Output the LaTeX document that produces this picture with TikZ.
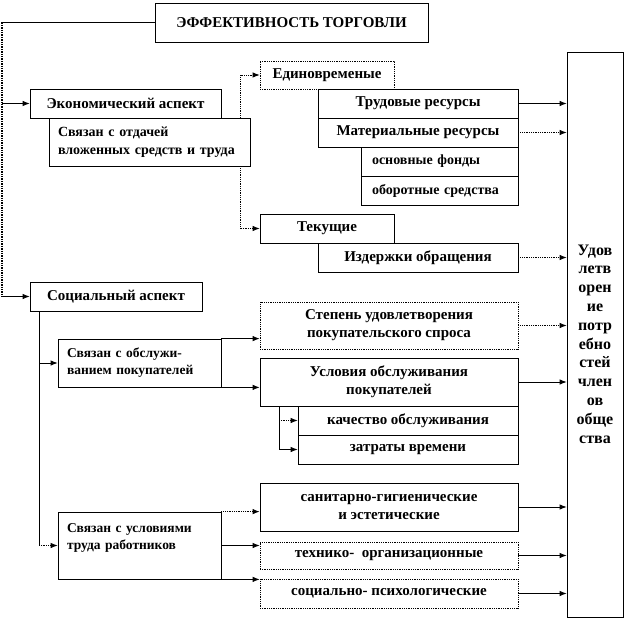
\documentclass[tikz,border=0pt]{standalone}
\usepackage{fontspec}
\setmainfont{Liberation Serif}
\usetikzlibrary{arrows.meta,positioning,calc}

\begin{document}
\begin{tikzpicture}[x=1pt, y=-1pt,
    box/.style={draw, line width=0.8pt, fill=white, inner sep=0pt, align=center,
      font=\bfseries\fontsize{15}{18}\selectfont},
    dotbox/.style={box, densely dotted},
    leftbox/.style={box, align=left, inner xsep=9pt, font=\bfseries\fontsize{13.5}{17}\selectfont},
    arr/.style={-{Latex[length=7pt,width=5.5pt]}, line width=0.8pt},
    dotarr/.style={arr, densely dotted},
    dotline/.style={line width=1.4pt, densely dotted}]
  \useasboundingbox (0,0) rectangle (628,620);

  \node[box, minimum width=273, minimum height=39] (title) at (291.5,22.5) {ЭФФЕКТИВНОСТЬ ТОРГОВЛИ};

  \node[box, minimum width=191, minimum height=29] (econ) at (125.5,103.5) {Экономический аспект};
  \node[leftbox, text width=183, minimum height=48, font=\bfseries\fontsize{14}{17.5}\selectfont] (econsub) at (149.5,142) {Связан с отдачей\\вложенных  средств и труда};
  \node[dotbox, minimum width=134, minimum height=28] (edin) at (327,75) {Единовременые};
  \node[box, minimum width=200, minimum height=29] (trud) at (418,103.5) {Трудовые  ресурсы};
  \node[box, minimum width=200, minimum height=29] (mater) at (418,132.5) {Материальные ресурсы};
  \node[leftbox, text width=135, minimum height=29, inner xsep=11pt, font=\bfseries\fontsize{14}{17}\selectfont] (osn) at (439.5,161.5) {основные фонды};
  \node[leftbox, text width=135, minimum height=29, inner xsep=11pt, font=\bfseries\fontsize{14}{17}\selectfont] (obor) at (439.5,190.5) {оборотные средства};
  \node[box, minimum width=134, minimum height=29] (tek) at (327,228.5) {Текущие};
  \node[box, minimum width=200, minimum height=29] (izd) at (418,257.5) {Издержки  обращения};

  \node[box, minimum width=56, minimum height=565] (goal) at (595,334.5) {};
  \node[font=\bfseries\fontsize{16}{18.8}\selectfont, align=center, inner sep=0pt] (goaltxt) at (595,344)
    {Удов\\летв\\орен\\ие\\потр\\ебно\\стей\\член\\ов\\обще\\ства};

  \node[box, minimum width=172, minimum height=29] (social) at (116,296.5) {Социальный аспект};
  \node[leftbox, text width=145, minimum height=48] (obsl) at (139.5,363) {Связан с обслужи-\\ванием покупателей};
  \node[leftbox, text width=145, minimum height=67] (trudrab) at (139.5,545.5) {Связан с условиями\\труда работников\\\mbox{}};
  \node[dotbox, minimum width=258, minimum height=47] (stepen) at (389,325.5) {Степень удовлетворения\\покупательского  спроса};
  \node[box, minimum width=258, minimum height=48] (usl) at (389,382) {Условия  обслуживания\\покупателей};
  \node[box, minimum width=220, minimum height=29] (kach) at (408,420.5) {качество обслуживания};
  \node[box, minimum width=220, minimum height=29] (zatr) at (408,449.5) {затраты времени};
  \node[box, minimum width=258, minimum height=48] (sanit) at (389,507) {санитарно-гигиенические\\и эстетические};
  \node[dotbox, minimum width=258, minimum height=27] (tehn) at (389,555.5) {технико-\ \ организационные};
  \node[dotbox, minimum width=258, minimum height=29] (socps) at (389,593.5) {социально- психологические};

  \coordinate (lt) at (2,22.5);
  \coordinate (ev) at (240,0);
  \coordinate (sv) at (39,0);
  \coordinate (uv) at (279,0);

  \draw[line width=0.8pt] (title.west) -- (lt);
  \draw[dotline] (lt) -- (lt |- social.west);
  \draw[arr] (lt |- econ.west) -- (econ.west);
  \draw[arr] (lt |- social.west) -- (social.west);

  \draw[dotarr] (ev |- econsub.north) |- (edin.west);
  \draw[dotarr] (ev |- econsub.south) |- (tek.west);

  \foreach \src in {trud, usl, sanit, tehn, socps}
    \draw[arr] (\src.east) -- (\src.east -| goal.west);
  \foreach \src in {mater, izd, stepen}
    \draw[dotarr] (\src.east) -- (\src.east -| goal.west);

  \draw[line width=0.8pt] (sv |- social.south) -- (sv |- trudrab.west);
  \draw[arr] (sv |- obsl.west) -- (obsl.west);
  \draw[dotarr] (sv |- trudrab.west) -- (trudrab.west);

  \draw[arr] (obsl.north east) -- (obsl.north east -| stepen.west);
  \draw[arr] (obsl.south east) -- (obsl.south east -| usl.west);

  \draw[arr] (uv |- usl.south) |- (zatr.west);
  \draw[dotarr] (uv |- kach.west) -- (kach.west);

  \draw[dotarr] (trudrab.north east) -- (trudrab.north east -| sanit.west);
  \draw[arr] (trudrab.east) -- (trudrab.east -| tehn.west);
  \draw[arr] (trudrab.south east) -- (trudrab.south east -| socps.west);
\end{tikzpicture}
\end{document}
